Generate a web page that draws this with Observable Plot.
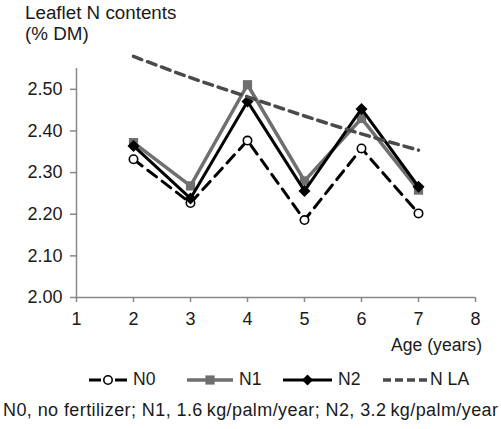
<!DOCTYPE html>
<html>
<head>
<meta charset="utf-8">
<script src="https://cdn.jsdelivr.net/npm/d3@7"></script>
<script src="https://cdn.jsdelivr.net/npm/@observablehq/plot@0.6"></script>
<style>
  html, body { margin: 0; padding: 0; background: #fff; }
  body { width: 501px; height: 429px; position: relative; overflow: hidden;
         font-family: "Liberation Sans", Arial, sans-serif; color: #1a1a1a; }
  .abs { position: absolute; white-space: nowrap; }
  #title { left: 25px; top: 2px; font-size: 18.8px; line-height: 21px; }
  #chart { position: absolute; left: 0; top: 50px; }
  #xlabel { right: 19px; top: 337px; font-size: 17.6px; line-height: 17.6px; }
  #legend { left: 0; top: 371px; width: 501px; height: 20px; }
  .li { position: absolute; top: 0; height: 18px; display: flex; align-items: center; font-size: 17.6px; line-height: 17.6px; }
  .li svg { display: block; }
  #caption { left: 3px; top: 401px; font-size: 18px; line-height: 18px; }
</style>
</head>
<body>
<div id="title" class="abs">Leaflet N contents<br>(% DM)</div>
<div id="chart"></div>
<div id="xlabel" class="abs">Age (years)</div>
<div id="legend" class="abs"></div>
<div id="caption" class="abs">N0, no fertilizer; N1, 1.6&#8201;kg/palm/year; N2, 3.2&#8201;kg/palm/year</div>
<script>
// ---- data ----
const ages = [2, 3, 4, 5, 6, 7];
const n0  = [2.332, 2.227, 2.377, 2.186, 2.358, 2.202];
const n1  = [2.372, 2.268, 2.511, 2.280, 2.430, 2.258];
const n2  = [2.364, 2.238, 2.471, 2.256, 2.453, 2.266];
const nla = [2.579, 2.528, 2.482, 2.436, 2.393, 2.354];
const seriesNames = ["N0", "N1", "N2", "N LA"];
const xTicks = [1, 2, 3, 4, 5, 6, 7, 8];
const yTicks = [2.0, 2.1, 2.2, 2.3, 2.4, 2.5];

const rows = (vals) => ages.map((a, i) => ({age: a, v: vals[i]}));
const d0 = rows(n0), d1 = rows(n1), d2 = rows(n2), dla = rows(nla);

const axisColor = "#888";
const fontFamily = '"Liberation Sans", Arial, sans-serif';

const chart = Plot.plot({
  width: 501,
  height: 280,
  marginLeft: 76,
  marginRight: 26,
  marginTop: 18,
  marginBottom: 33,
  style: {fontFamily, fontSize: "18px", color: "#1a1a1a", background: "white"},
  x: {domain: [1, 8], label: null},
  y: {domain: [2.0, 2.55], label: null},
  marks: [
    Plot.axisX({ticks: xTicks, tickSize: 5, tickPadding: 10, stroke: axisColor, strokeWidth: 1.5, tickFormat: d3.format("d"), label: null, fill: "#1a1a1a"}),
    Plot.axisY({ticks: yTicks, tickSize: 6, tickPadding: 8, stroke: axisColor, strokeWidth: 1.5, tickFormat: d3.format(".2f"), label: null, fill: "#1a1a1a"}),
    Plot.ruleY([2.0], {stroke: axisColor, strokeWidth: 1.5}),
    Plot.ruleX([1], {stroke: axisColor, strokeWidth: 1.5}),
    // N0
    Plot.line(d0, {x: "age", y: "v", stroke: "#000", strokeWidth: 3, strokeDasharray: "11,7"}),
    Plot.dot(d0, {x: "age", y: "v", r: 4.2, fill: "white", stroke: "#000", strokeWidth: 1.6}),
    // N1
    Plot.line(d1, {x: "age", y: "v", stroke: "#6f6f6f", strokeWidth: 3.5}),
    Plot.dot(d1, {x: "age", y: "v", symbol: "square", r: 5.2, fill: "#6f6f6f"}),
    // N2
    Plot.line(d2, {x: "age", y: "v", stroke: "#000", strokeWidth: 3}),
    Plot.dot(d2, {x: "age", y: "v", symbol: "diamond2", r: 5.4, fill: "#000"}),
    // N LA
    Plot.line(dla, {x: "age", y: "v", curve: "catmull-rom", stroke: "#4a4a4a", strokeWidth: 3.5, strokeDasharray: "9,6"})
  ]
});
document.getElementById("chart").appendChild(chart);

// ---- legend (HTML) ----
const legendSpec = [
  {name: seriesNames[0], left: 89,  w: 38, stroke: "#000",    sw: 3,   dash: "12,14", marker: "circle"},
  {name: seriesNames[1], left: 187, w: 46, stroke: "#6f6f6f", sw: 3.5, dash: null,  marker: "square"},
  {name: seriesNames[2], left: 283, w: 49, stroke: "#000",    sw: 3,   dash: null,  marker: "diamond"},
  {name: seriesNames[3], left: 383, w: 45, stroke: "#4a4a4a", sw: 3.5, dash: "8,4", marker: null}
];
const legend = d3.select("#legend");
legendSpec.forEach(s => {
  const item = legend.append("div").attr("class", "li").style("left", s.left + "px");
  const svg = item.append("svg").attr("width", s.w).attr("height", 18);
  svg.append("line").attr("x1", 0).attr("x2", s.w).attr("y1", 9).attr("y2", 9)
    .attr("stroke", s.stroke).attr("stroke-width", s.sw)
    .attr("stroke-dasharray", s.dash);
  const cx = s.w / 2;
  if (s.marker === "circle") {
    svg.append("circle").attr("cx", cx).attr("cy", 9).attr("r", 4.2)
      .attr("fill", "white").attr("stroke", "#000").attr("stroke-width", 1.6);
  } else if (s.marker === "square") {
    svg.append("rect").attr("x", cx - 4.6).attr("y", 4.4).attr("width", 9.2).attr("height", 9.2).attr("fill", s.stroke);
  } else if (s.marker === "diamond") {
    svg.append("path").attr("d", `M${cx},3.5L${cx + 5.5},9L${cx},14.5L${cx - 5.5},9Z`).attr("fill", "#000");
  }
  item.append("span").style("margin-left", (s.marker ? 6 : 2) + "px").text(s.name);
});

// stretch caption to the reference's width (~495px)
const cap = document.getElementById("caption");
const w = cap.getBoundingClientRect().width;
const n = cap.textContent.length;
cap.style.letterSpacing = ((495 - w) / (n - 1)) + "px";
</script>
</body>
</html>
